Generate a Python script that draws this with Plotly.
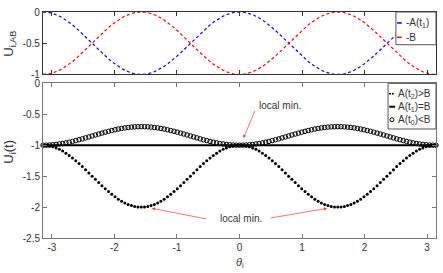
import numpy as np
import plotly.graph_objects as go

# ---------------- data ----------------
theta_deg = list(range(-180, 181, 3))          # sample grid, degrees

# top panel: -A(t1) (blue) and -B (red)
neg_A_t1 = [
    0.000, -0.003, -0.011, -0.024, -0.043, -0.067, -0.095, -0.128, -0.165, -0.206, -0.250,
    -0.297, -0.345, -0.396, -0.448, -0.500, -0.552, -0.604, -0.655, -0.703, -0.750, -0.794,
    -0.835, -0.872, -0.905, -0.933, -0.957, -0.976, -0.989, -0.997, -1.000,
    -0.997, -0.989, -0.976, -0.957, -0.933, -0.905, -0.872, -0.835, -0.794, -0.750, -0.703,
    -0.655, -0.604, -0.552, -0.500, -0.448, -0.396, -0.345, -0.297, -0.250, -0.206, -0.165,
    -0.128, -0.095, -0.067, -0.043, -0.024, -0.011, -0.003, 0.000,
    -0.003, -0.011, -0.024, -0.043, -0.067, -0.095, -0.128, -0.165, -0.206, -0.250,
    -0.297, -0.345, -0.396, -0.448, -0.500, -0.552, -0.604, -0.655, -0.703, -0.750, -0.794,
    -0.835, -0.872, -0.905, -0.933, -0.957, -0.976, -0.989, -0.997, -1.000,
    -0.997, -0.989, -0.976, -0.957, -0.933, -0.905, -0.872, -0.835, -0.794, -0.750, -0.703,
    -0.655, -0.604, -0.552, -0.500, -0.448, -0.396, -0.345, -0.297, -0.250, -0.206, -0.165,
    -0.128, -0.095, -0.067, -0.043, -0.024, -0.011, -0.003, 0.000,
]
neg_B = [
    -1.000, -0.997, -0.989, -0.976, -0.957, -0.933, -0.905, -0.872, -0.835, -0.794, -0.750,
    -0.703, -0.655, -0.604, -0.552, -0.500, -0.448, -0.396, -0.345, -0.297, -0.250, -0.206,
    -0.165, -0.128, -0.095, -0.067, -0.043, -0.024, -0.011, -0.003, 0.000,
    -0.003, -0.011, -0.024, -0.043, -0.067, -0.095, -0.128, -0.165, -0.206, -0.250,
    -0.297, -0.345, -0.396, -0.448, -0.500, -0.552, -0.604, -0.655, -0.703, -0.750, -0.794,
    -0.835, -0.872, -0.905, -0.933, -0.957, -0.976, -0.989, -0.997, -1.000,
    -0.997, -0.989, -0.976, -0.957, -0.933, -0.905, -0.872, -0.835, -0.794, -0.750,
    -0.703, -0.655, -0.604, -0.552, -0.500, -0.448, -0.396, -0.345, -0.297, -0.250, -0.206,
    -0.165, -0.128, -0.095, -0.067, -0.043, -0.024, -0.011, -0.003, 0.000,
    -0.003, -0.011, -0.024, -0.043, -0.067, -0.095, -0.128, -0.165, -0.206, -0.250,
    -0.297, -0.345, -0.396, -0.448, -0.500, -0.552, -0.604, -0.655, -0.703, -0.750, -0.794,
    -0.835, -0.872, -0.905, -0.933, -0.957, -0.976, -0.989, -0.997, -1.000,
]

# bottom panel: U_i(t)
u_t2 = [  # A(t2) > B  (dots)
    -1.000, -1.003, -1.011, -1.024, -1.043, -1.067, -1.095, -1.128, -1.165, -1.206, -1.250,
    -1.297, -1.345, -1.396, -1.448, -1.500, -1.552, -1.604, -1.655, -1.703, -1.750, -1.794,
    -1.835, -1.872, -1.905, -1.933, -1.957, -1.976, -1.989, -1.997, -2.000,
    -1.997, -1.989, -1.976, -1.957, -1.933, -1.905, -1.872, -1.835, -1.794, -1.750, -1.703,
    -1.655, -1.604, -1.552, -1.500, -1.448, -1.396, -1.345, -1.297, -1.250, -1.206, -1.165,
    -1.128, -1.095, -1.067, -1.043, -1.024, -1.011, -1.003, -1.000,
    -1.003, -1.011, -1.024, -1.043, -1.067, -1.095, -1.128, -1.165, -1.206, -1.250,
    -1.297, -1.345, -1.396, -1.448, -1.500, -1.552, -1.604, -1.655, -1.703, -1.750, -1.794,
    -1.835, -1.872, -1.905, -1.933, -1.957, -1.976, -1.989, -1.997, -2.000,
    -1.997, -1.989, -1.976, -1.957, -1.933, -1.905, -1.872, -1.835, -1.794, -1.750, -1.703,
    -1.655, -1.604, -1.552, -1.500, -1.448, -1.396, -1.345, -1.297, -1.250, -1.206, -1.165,
    -1.128, -1.095, -1.067, -1.043, -1.024, -1.011, -1.003, -1.000,
]
u_t1 = [-1.0] * len(theta_deg)  # A(t1) = B  (solid line)
u_t0 = [  # A(t0) < B  (circles)
    -1.000, -0.999, -0.997, -0.993, -0.987, -0.980, -0.972, -0.962, -0.951, -0.938, -0.925,
    -0.911, -0.897, -0.881, -0.866, -0.850, -0.834, -0.819, -0.804, -0.789, -0.775, -0.762,
    -0.750, -0.738, -0.729, -0.720, -0.713, -0.707, -0.703, -0.701, -0.700,
    -0.701, -0.703, -0.707, -0.713, -0.720, -0.729, -0.738, -0.750, -0.762, -0.775, -0.789,
    -0.804, -0.819, -0.834, -0.850, -0.866, -0.881, -0.897, -0.911, -0.925, -0.938, -0.951,
    -0.962, -0.972, -0.980, -0.987, -0.993, -0.997, -0.999, -1.000,
    -0.999, -0.997, -0.993, -0.987, -0.980, -0.972, -0.962, -0.951, -0.938, -0.925,
    -0.911, -0.897, -0.881, -0.866, -0.850, -0.834, -0.819, -0.804, -0.789, -0.775, -0.762,
    -0.750, -0.738, -0.729, -0.720, -0.713, -0.707, -0.703, -0.701, -0.700,
    -0.701, -0.703, -0.707, -0.713, -0.720, -0.729, -0.738, -0.750, -0.762, -0.775, -0.789,
    -0.804, -0.819, -0.834, -0.850, -0.866, -0.881, -0.897, -0.911, -0.925, -0.938, -0.951,
    -0.962, -0.972, -0.980, -0.987, -0.993, -0.997, -0.999, -1.000,
]

x_ticks = [-3, -2, -1, 0, 1, 2, 3]
top_y_ticks = [0, -0.5, -1]
top_y_labels = ["0", "-0.5", "-1"]
bot_y_ticks = [0, -0.5, -1, -1.5, -2, -2.5]
bot_y_labels = ["0", "-0.5", "-1", "-1.5", "-2", "-2.5"]

theta = np.radians(theta_deg)
FONT = "Liberation Sans, Arial, sans-serif"
TXT = "#333333"

fig = go.Figure()
fig.add_trace(go.Scatter(x=theta, y=neg_A_t1, mode="lines", xaxis="x", yaxis="y",
                         line=dict(color="#0000ff", width=1.2, dash="3px,2.5px"), showlegend=False))
fig.add_trace(go.Scatter(x=theta, y=neg_B, mode="lines", xaxis="x", yaxis="y",
                         line=dict(color="#ff0000", width=1.2, dash="3px,2.5px"), showlegend=False))
fig.add_trace(go.Scatter(x=theta, y=u_t2, mode="markers", xaxis="x2", yaxis="y2", cliponaxis=False,
                         marker=dict(color="black", size=3, symbol="circle", line=dict(width=0)),
                         showlegend=False))
fig.add_trace(go.Scatter(x=theta, y=u_t1, mode="lines", xaxis="x2", yaxis="y2",
                         line=dict(color="black", width=2), showlegend=False))
fig.add_trace(go.Scatter(x=theta, y=u_t0, mode="markers", xaxis="x2", yaxis="y2", cliponaxis=False,
                         marker=dict(color="black", size=4.5, symbol="circle-open", line=dict(width=1)),
                         showlegend=False))

common_x = dict(range=[-np.pi, np.pi], tickvals=x_ticks, ticks="inside", ticklen=4,
                showgrid=False, zeroline=False, showline=True, mirror="ticks",
                tickfont=dict(family=FONT, size=10, color=TXT))
fig.update_layout(
    width=443, height=273,
    margin=dict(l=43, r=6, t=10, b=35),
    paper_bgcolor="white", plot_bgcolor="white",
    xaxis=dict(common_x, domain=[0, 1], anchor="y", showticklabels=False,
               linecolor="#333333", linewidth=1.3, tickcolor="#333333"),
    yaxis=dict(domain=[0.7237, 1], anchor="x", range=[-1, 0], tickvals=top_y_ticks,
               ticktext=top_y_labels, ticks="inside", ticklen=4, showgrid=False, zeroline=False,
               showline=True, mirror="ticks", linecolor="#333333", linewidth=1.3,
               tickcolor="#333333", tickfont=dict(family=FONT, size=10, color=TXT)),
    xaxis2=dict(common_x, domain=[0, 1], anchor="y2", ticktext=[str(v) for v in x_ticks],
                linecolor="#777777", linewidth=1, tickcolor="#777777"),
    yaxis2=dict(domain=[0, 0.6842], anchor="x2", range=[-2.5, 0], tickvals=bot_y_ticks,
                ticktext=bot_y_labels, ticks="inside", ticklen=4, showgrid=False, zeroline=False,
                showline=True, mirror="ticks", linecolor="#777777", linewidth=1,
                tickcolor="#777777", tickfont=dict(family=FONT, size=10, color=TXT)),
)

anns = []
shapes = []
# axis titles
anns.append(dict(xref="paper", yref="paper", x=-0.084, y=0.86, text="U<sub>i,AB</sub>",
                 xanchor="center", yanchor="middle",
                 textangle=-90, showarrow=False, font=dict(family=FONT, size=13, color=TXT)))
anns.append(dict(xref="paper", yref="paper", x=-0.084, y=0.382, text="U<sub>i</sub>(t)",
                 xanchor="center", yanchor="middle",
                 textangle=-90, showarrow=False, font=dict(family=FONT, size=13, color=TXT)))
anns.append(dict(xref="paper", yref="paper", x=0.5, y=-0.112, text="<i>θ</i><sub>i</sub>",
                 xanchor="center", yanchor="middle",
                 showarrow=False, font=dict(family=FONT, size=11, color=TXT)))

# top legend (manual)
shapes.append(dict(type="rect", xref="x domain", yref="y domain", x0=0.898, x1=1.0, y0=0.476, y1=1.0,
                   line=dict(color="#555555", width=1), fillcolor="white", layer="above"))
for yy, col, lab in [(0.825, "#0000ff", "-A(t<sub>1</sub>)"), (0.595, "#ff0000", "-B")]:
    shapes.append(dict(type="line", xref="x domain", yref="y domain", x0=0.901, x1=0.913, y0=yy, y1=yy,
                       line=dict(color=col, width=1.5), layer="above"))
    anns.append(dict(xref="x domain", yref="y domain", x=0.919, y=yy, text=lab, xanchor="left",
                     yanchor="middle", showarrow=False, font=dict(family=FONT, size=10, color=TXT)))

# bottom legend (manual)
shapes.append(dict(type="rect", xref="x2 domain", yref="y2 domain", x0=0.878, x1=1.0, y0=0.705, y1=1.0,
                   line=dict(color="#555555", width=1), fillcolor="white", layer="above"))
rows = [0.933, 0.849, 0.765]
for dx in (0.883, 0.890):
    shapes.append(dict(type="circle", xref="x2 domain", yref="y2 domain", xsizemode="pixel",
                       ysizemode="pixel", xanchor=dx, yanchor=rows[0], x0=-1, x1=1, y0=-1, y1=1,
                       fillcolor="black", line=dict(width=0), layer="above"))
shapes.append(dict(type="line", xref="x2 domain", yref="y2 domain", x0=0.881, x1=0.896,
                   y0=rows[1], y1=rows[1], line=dict(color="black", width=2), layer="above"))
shapes.append(dict(type="circle", xref="x2 domain", yref="y2 domain", xsizemode="pixel",
                   ysizemode="pixel", xanchor=0.888, yanchor=rows[2], x0=-2, x1=2, y0=-2, y1=2,
                   line=dict(color="black", width=1), layer="above"))
for yy, lab in zip(rows, ["A(t<sub>2</sub>)>B", "A(t<sub>1</sub>)=B", "A(t<sub>0</sub>)<B"]):
    anns.append(dict(xref="x2 domain", yref="y2 domain", x=0.897, y=yy, text=lab, xanchor="left",
                     yanchor="middle", showarrow=False, font=dict(family=FONT, size=10, color=TXT)))

# "local min." annotations
arrow = dict(showarrow=True, arrowcolor="#ff3333", arrowwidth=0.7, arrowhead=2, arrowsize=0.9,
             xref="x2", yref="y2", axref="x2", ayref="y2", text="")
anns.append(dict(xref="x2", yref="y2", x=0.64, y=-0.357, text="local min.", showarrow=False,
                 xanchor="center", yanchor="middle",
                 font=dict(family=FONT, size=10, color=TXT)))
anns.append(dict(arrow, x=0.064, y=-0.885, ax=0.255, ay=-0.421))
anns.append(dict(xref="x2", yref="y2", x=0.03, y=-2.18, text="local min.", showarrow=False,
                 xanchor="center", yanchor="middle",
                 font=dict(family=FONT, size=10, color=TXT)))
anns.append(dict(arrow, x=-1.40, y=-2.02, ax=-0.51, ay=-2.196))
anns.append(dict(arrow, x=1.40, y=-2.02, ax=0.478, ay=-2.18))

fig.update_layout(annotations=anns, shapes=shapes)
fig.write_html("out.html", config={"displayModeBar": False},
               post_script="document.body.style.margin='0';")
